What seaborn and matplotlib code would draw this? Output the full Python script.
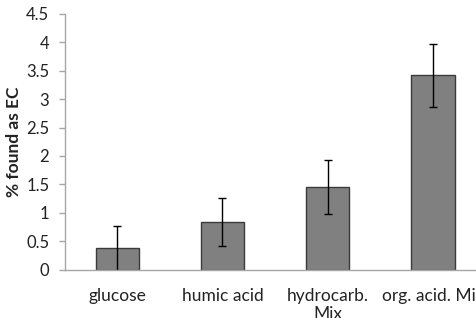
import matplotlib
matplotlib.use("Agg")
import matplotlib.pyplot as plt
import seaborn as sns
import numpy as np
import pandas as pd

categories = ["glucose", "humic acid", "hydrocarb.\nMix", "org. acid. Mix"]
values = [0.37, 0.84, 1.45, 3.42]
errors = [0.39, 0.42, 0.47, 0.55]
yticks = [0, 0.5, 1, 1.5, 2, 2.5, 3, 3.5, 4, 4.5]
ytick_labels = ["0", "0.5", "1", "1.5", "2", "2.5", "3", "3.5", "4", "4.5"]

sns.set_style("white")
plt.rcParams["font.family"] = ["Lato", "DejaVu Sans"]

fig = plt.figure(figsize=(4.76, 3.18), dpi=100)
ax = fig.add_axes([64.5 / 476, 48.5 / 318, 421.2 / 476, 255.5 / 318])

df = pd.DataFrame({"cat": categories, "val": values})
sns.barplot(data=df, x="cat", y="val", color="#808080", saturation=1,
            width=0.41, edgecolor="#3a3a3a", linewidth=1.0, ax=ax)
ax.errorbar(np.arange(len(categories)), values, yerr=errors, fmt="none",
            ecolor="black", elinewidth=1.0, capsize=3, capthick=1.0)

ax.set_xlim(-0.5, len(categories) - 0.5)
ax.set_ylim(0, 4.5)
ax.set_yticks(yticks)
ax.set_yticklabels(ytick_labels, fontsize=12, color="#222222")
ax.set_xticks(np.arange(len(categories)))
ax.set_xticklabels(categories, fontsize=12.5, linespacing=1.2, color="#222222")
ax.set_xticks(np.arange(len(categories) + 1) - 0.5, minor=True)
ax.tick_params(axis="x", which="major", length=0, pad=13)
ax.tick_params(axis="x", which="minor", length=4, color="#a6a6a6", width=1)
ax.tick_params(axis="y", length=4, color="#a6a6a6", width=1, pad=7, left=True)
ax.set_xlabel("")
ax.set_ylabel("% found as EC", fontsize=12.5, fontweight="bold", labelpad=3,
              color="#222222")

for side in ["top", "right"]:
    ax.spines[side].set_visible(False)
for side in ["left", "bottom"]:
    ax.spines[side].set_color("#a6a6a6")
    ax.spines[side].set_linewidth(1)

fig.savefig("out.png", dpi=100)
